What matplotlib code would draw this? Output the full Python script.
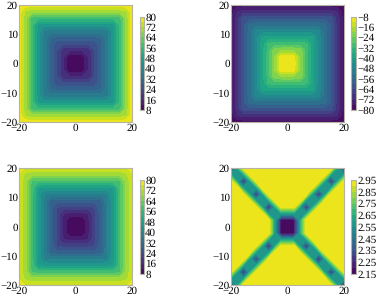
#!/usr/bin/env python3
"""Four contour maps with colorbars (top right quadrant tables, mirrored)."""

import matplotlib
matplotlib.use('Agg')
import matplotlib.pyplot as plt
import numpy as np

plt.rcParams['font.family'] = ['Liberation Serif', 'DejaVu Serif']
plt.rcParams['text.hinting'] = 'none'
plt.rcParams['text.hinting_factor'] = 1

W, H = 377, 298
GRID = [0, 2.22, 4.44, 6.67, 8.89, 11.11, 13.33, 15.56, 17.78, 20]
X_TICKS = [-20, 0, 20]
Y_TICKS = [-20, -10, 0, 10, 20]
EDGE = '#b4b4a4'

# one quadrant of each panel, rows are y, columns are x
panel_a = [
    [8, 8.5, 16, 24, 31, 38, 46, 57, 69, 78],
    [8.5, 9, 16, 24, 31, 38, 46, 57, 69, 78],
    [16, 16, 17, 24, 31, 38, 46, 57, 69, 78],
    [24, 24, 24, 25, 31, 38, 46, 57, 69, 78],
    [31, 31, 31, 31, 32, 38, 46, 57, 69, 78],
    [38, 38, 38, 38, 38, 39, 46, 57, 69, 78],
    [46, 46, 46, 46, 46, 46, 47, 57, 69, 78],
    [57, 57, 57, 57, 57, 57, 57, 58, 69, 78],
    [69, 69, 69, 69, 69, 69, 69, 69, 71, 78],
    [78, 78, 78, 78, 78, 78, 78, 78, 78, 79.5],
]
panel_b = [
    [-9, -9.5, -20, -30, -38, -46, -54, -61, -70, -78],
    [-9.5, -10, -20, -30, -38, -46, -54, -61, -70, -78],
    [-20, -20, -21, -30, -38, -46, -54, -61, -70, -78],
    [-30, -30, -30, -31, -38, -46, -54, -61, -70, -78],
    [-38, -38, -38, -38, -39, -46, -54, -61, -70, -78],
    [-46, -46, -46, -46, -46, -47, -54, -61, -70, -78],
    [-54, -54, -54, -54, -54, -54, -55, -61, -70, -78],
    [-61, -61, -61, -61, -61, -61, -61, -62, -70, -78],
    [-70, -70, -70, -70, -70, -70, -70, -70, -72, -78],
    [-78, -78, -78, -78, -78, -78, -78, -78, -78, -80],
]
panel_c = [
    [8, 9, 15, 23, 30, 39, 47, 58, 69, 75],
    [9, 9, 15, 23, 30, 39, 47, 58, 69, 75],
    [15, 15, 16, 23, 30, 39, 47, 58, 69, 75],
    [23, 23, 23, 24, 30, 39, 47, 58, 69, 75],
    [30, 30, 30, 30, 31, 39, 47, 58, 69, 75],
    [39, 39, 39, 39, 39, 40, 47, 58, 69, 75],
    [47, 47, 47, 47, 47, 47, 48, 58, 69, 75],
    [58, 58, 58, 58, 58, 58, 58, 59, 69, 75],
    [69, 69, 69, 69, 69, 69, 69, 69, 71, 75],
    [75, 75, 75, 75, 75, 75, 75, 75, 75, 79.5],
]
panel_d = [
    [2.15, 2.15, 2.6, 2.94, 2.94, 2.94, 2.94, 2.94, 2.94, 2.94],
    [2.15, 2.15, 2.6, 2.94, 2.94, 2.94, 2.94, 2.94, 2.94, 2.94],
    [2.6, 2.6, 2.6, 2.6, 2.94, 2.94, 2.94, 2.94, 2.94, 2.94],
    [2.94, 2.94, 2.6, 2.25, 2.6, 2.94, 2.94, 2.94, 2.94, 2.94],
    [2.94, 2.94, 2.94, 2.6, 2.6, 2.6, 2.94, 2.94, 2.94, 2.94],
    [2.94, 2.94, 2.94, 2.94, 2.6, 2.25, 2.6, 2.94, 2.94, 2.94],
    [2.94, 2.94, 2.94, 2.94, 2.94, 2.6, 2.6, 2.6, 2.94, 2.94],
    [2.94, 2.94, 2.94, 2.94, 2.94, 2.94, 2.6, 2.25, 2.6, 2.94],
    [2.94, 2.94, 2.94, 2.94, 2.94, 2.94, 2.94, 2.6, 2.6, 2.6],
    [2.94, 2.94, 2.94, 2.94, 2.94, 2.94, 2.94, 2.94, 2.6, 2.25],
]

levels_a = np.arange(8, 81, 4)
ticks_a = [8, 16, 24, 32, 40, 48, 56, 64, 72, 80]
levels_b = np.arange(-80, -7, 4)
ticks_b = [-80, -72, -64, -56, -48, -40, -32, -24, -16, -8]
levels_d = np.linspace(2.15, 2.95, 17)
ticks_d = [2.15, 2.25, 2.35, 2.45, 2.55, 2.65, 2.75, 2.85, 2.95]


def mirror(q):
    """Expand a quadrant table to the full square"""
    q = np.array(q, dtype=float)
    top = np.hstack([q[:, :0:-1], q])
    return np.vstack([top[:0:-1], top])


def px_axes(fig, x0, y0, x1, y1):
    """Axes from pixel box, y counted from the top"""
    return fig.add_axes([x0 / W, 1 - y1 / H, (x1 - x0) / W, (y1 - y0) / H])


def draw_panel(fig, box, cbox, q, levels, ticks, fmt=None):
    ax = px_axes(fig, *box)
    coords = np.array(GRID)
    full = np.concatenate([-coords[:0:-1], coords])
    cf = ax.contourf(full, full, mirror(q), levels=levels, cmap='viridis',
                     vmin=levels[0], vmax=levels[-1])
    ax.set_xlim(-20, 20)
    ax.set_ylim(-20, 20)
    ax.set_xticks(X_TICKS)
    ax.set_yticks(Y_TICKS)
    ax.tick_params(length=0, pad=1, labelsize=8)
    for s in ax.spines.values():
        s.set_color(EDGE)
        s.set_linewidth(0.8)

    cax = px_axes(fig, *cbox)
    cb = fig.colorbar(cf, cax=cax, ticks=ticks, format=fmt)
    cb.ax.tick_params(length=0, pad=1, labelsize=8)
    cb.outline.set_edgecolor(EDGE)
    cb.outline.set_linewidth(0.8)


fig = plt.figure(figsize=(W / 100, H / 100), dpi=100)

draw_panel(fig, (19.3, 5.3, 132.3, 121.7), (139.5, 16.7, 143.7, 110),
           panel_a, levels_a, ticks_a, '%d')
draw_panel(fig, (231, 5.3, 343.7, 121.7), (350.7, 16.7, 355.7, 110),
           panel_b, levels_b, ticks_b)
draw_panel(fig, (19.3, 168.3, 132.3, 285), (139.5, 180, 143.7, 274),
           panel_c, levels_a, ticks_a, '%d')
draw_panel(fig, (231, 168.3, 343.7, 285), (350.7, 180, 355.7, 274),
           panel_d, levels_d, ticks_d, '%.2f')

plt.savefig('out.png', dpi=100)
plt.close()
